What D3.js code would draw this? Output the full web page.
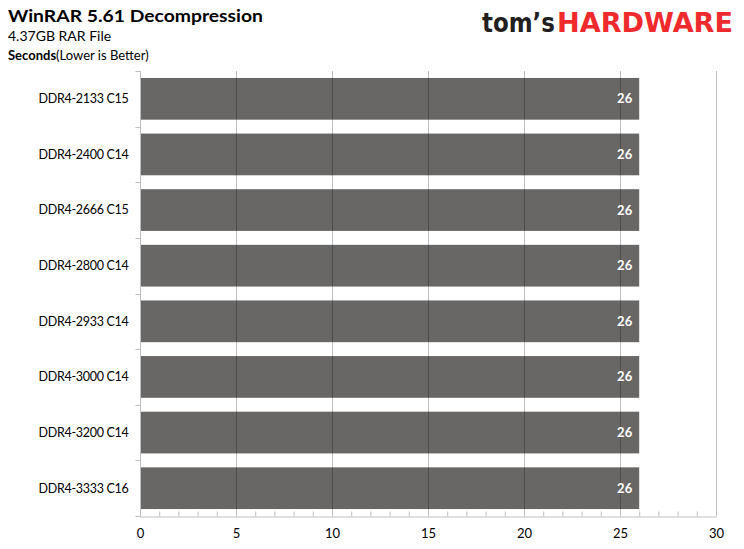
<!DOCTYPE html>
<html>
<head>
<meta charset="utf-8">
<script src="https://cdn.jsdelivr.net/npm/d3@7"></script>
<style>
  body { margin: 0; background: #fff; }
  svg { display: block; font-family: Lato, "Open Sans", sans-serif; }
</style>
</head>
<body>
<div id="chart"></div>
<script>
// Chart data
var categories = ['DDR4-2133 C15', 'DDR4-2400 C14', 'DDR4-2666 C15', 'DDR4-2800 C14',
                  'DDR4-2933 C14', 'DDR4-3000 C14', 'DDR4-3200 C14', 'DDR4-3333 C16'];
var seconds = [26, 26, 26, 26, 26, 26, 26, 26];
var xTicks = [0, 5, 10, 15, 20, 25, 30];

var WIDTH = 744, HEIGHT = 549;
var PLOT = { left: 140, right: 716, top: 71, bottom: 516 };
var BAR_COLOR = '#696766';

var svg = d3.select('#chart').append('svg')
  .attr('width', WIDTH).attr('height', HEIGHT);

// Titles
svg.append('text').attr('x', 8).attr('y', 22)
  .attr('textLength', 255).attr('lengthAdjust', 'spacingAndGlyphs')
  .style('font-size', '17px').style('font-weight', 'bold').attr('fill', '#000')
  .text('WinRAR 5.61 Decompression');
svg.append('text').attr('x', 8).attr('y', 41)
  .style('font-size', '14px').attr('fill', '#000')
  .text('4.37GB RAR File');
var sub = svg.append('text').attr('x', 8).attr('y', 60)
  .style('font-size', '13px').attr('fill', '#000');
sub.append('tspan').style('font-weight', 'bold').text('Seconds');
sub.append('tspan').text('(Lower is Better)');

// Logo, two parts
svg.append('text').attr('x', 482).attr('y', 32)
  .attr('textLength', 73).attr('lengthAdjust', 'spacingAndGlyphs')
  .style('font-size', '26px').style('font-weight', 'bold')
  .style('font-family', '"DejaVu Sans", sans-serif')
  .attr('fill', '#231f20').text('tom\u2019s');
svg.append('text').attr('x', 557).attr('y', 32)
  .attr('textLength', 176).attr('lengthAdjust', 'spacingAndGlyphs')
  .style('font-size', '26px').style('font-weight', 'bold')
  .style('font-family', '"DejaVu Sans", sans-serif')
  .attr('fill', '#ee2a2d').text('HARDWARE');

// Scales
var x = d3.scaleLinear().domain([0, 30]).range([PLOT.left, PLOT.right]);
var y = d3.scaleBand().domain(categories).range([PLOT.top, PLOT.bottom])
  .paddingInner(0.25).paddingOuter(0.125);

// Bars
svg.append('g').selectAll('rect')
  .data(categories)
  .join('rect')
  .attr('x', x(0))
  .attr('y', function(d) { return y(d); })
  .attr('width', function(d, i) { return x(seconds[i]) - x(0); })
  .attr('height', y.bandwidth())
  .attr('fill', BAR_COLOR);

// Vertical gridlines drawn over the bars
svg.append('g').selectAll('line')
  .data(xTicks.slice(1))
  .join('line')
  .attr('x1', function(d) { return x(d) + 0.5; })
  .attr('x2', function(d) { return x(d) + 0.5; })
  .attr('y1', PLOT.top).attr('y2', PLOT.bottom)
  .attr('stroke', 'rgba(0,0,0,0.25)');

// X axis with minor ticks pointing up
var xAxis = svg.append('g')
  .attr('transform', 'translate(0,' + (PLOT.bottom + 0.5) + ')')
  .call(d3.axisBottom(x).tickValues(d3.range(0, 31)).tickSize(-5).tickSizeOuter(0)
    .tickFormat(function(d) { return xTicks.indexOf(d) >= 0 ? d : ''; }));
xAxis.select('.domain').attr('stroke', '#bfbfbf');
xAxis.selectAll('.tick line').attr('stroke', '#bfbfbf');
xAxis.selectAll('.tick text')
  .attr('y', 12).attr('dy', '0.71em')
  .style('font-size', '13px').style('font-family', 'Lato, sans-serif').attr('fill', '#000');

// Y axis with ticks between categories
var yAxis = svg.append('g').attr('transform', 'translate(' + (PLOT.left + 0.5) + ',0)');
yAxis.append('line')
  .attr('y1', PLOT.top).attr('y2', PLOT.bottom)
  .attr('stroke', '#bfbfbf');
var step = y.step();
yAxis.selectAll('line.sep')
  .data(d3.range(0, categories.length + 1))
  .join('line').attr('class', 'sep')
  .attr('x1', -5).attr('x2', 0)
  .attr('y1', function(i) { return Math.round(PLOT.top + i * step) + 0.5; })
  .attr('y2', function(i) { return Math.round(PLOT.top + i * step) + 0.5; })
  .attr('stroke', '#bfbfbf');
yAxis.selectAll('text')
  .data(categories)
  .join('text')
  .attr('x', -12)
  .attr('y', function(d) { return y(d) + y.bandwidth() / 2; })
  .attr('dy', '0.35em')
  .attr('text-anchor', 'end')
  .style('font-size', '12.5px').style('letter-spacing', '-0.3px').attr('fill', '#000')
  .text(function(d) { return d; });

// Value labels
svg.append('g').selectAll('text')
  .data(categories)
  .join('text')
  .attr('x', function(d, i) { return x(seconds[i]) - 7; })
  .attr('y', function(d) { return y(d) + y.bandwidth() / 2; })
  .attr('dy', '0.35em')
  .attr('text-anchor', 'end')
  .style('font-size', '13px').style('font-weight', 'bold').attr('fill', '#fff')
  .text(function(d, i) { return seconds[i]; });
</script>
</body>
</html>
